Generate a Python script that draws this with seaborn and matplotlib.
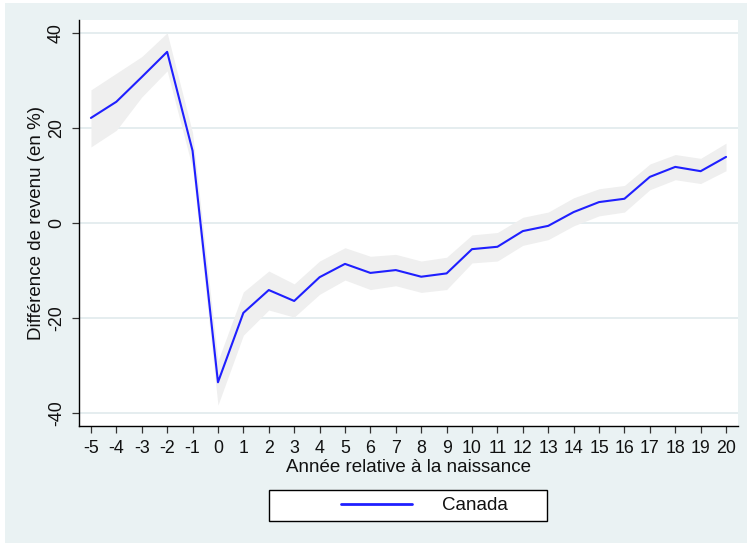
import matplotlib
matplotlib.use("Agg")
import matplotlib.pyplot as plt
from matplotlib.patches import Rectangle
from matplotlib.lines import Line2D
from matplotlib.legend_handler import HandlerLine2D
import seaborn as sns
import pandas as pd

# Years relative to the birth of the child
years = list(range(-5, 21))
# Estimated income difference (%) and its confidence band
diff = [22.1, 25.5, 30.7, 36.0, 15.2, -33.5, -18.9, -14.1, -16.4, -11.4,
        -8.6, -10.5, -9.9, -11.3, -10.6, -5.5, -5.0, -1.7, -0.6, 2.3,
        4.4, 5.1, 9.7, 11.8, 10.9, 13.9]
ci_low = [16.0, 19.5, 26.5, 32.0, 11.5, -38.3, -23.6, -18.3, -19.8, -15.0,
          -12.0, -14.0, -13.2, -14.6, -14.0, -8.4, -8.0, -4.7, -3.5, -0.6,
          1.5, 2.3, 7.0, 9.1, 8.3, 11.0]
ci_high = [28.0, 31.5, 35.0, 40.0, 19.0, -29.0, -14.5, -10.1, -12.8, -8.0,
           -5.2, -7.0, -6.6, -8.0, -7.2, -2.5, -2.0, 1.2, 2.3, 5.3,
           7.2, 7.9, 12.4, 14.4, 13.6, 16.8]
y_ticks = [-40, -20, 0, 20, 40]
series_name = "Canada"

df = pd.DataFrame({"annee": years, "diff": diff, "lo": ci_low, "hi": ci_high})

sns.set_theme(style="white")
plt.rcParams["font.family"] = ["Liberation Sans", "DejaVu Sans"]

BG = "#eaf2f3"
GRID = "#e0eaec"
LINE = "#1f1fff"
BAND = "#efefef"
FS = 13.5
TICK_FS = 12.8

fig = plt.figure(figsize=(7.47, 5.44), dpi=100, facecolor="white")
fig.patches.append(Rectangle((5 / 747, 1 / 544), 1.0, 1 - 4 / 544,
                             transform=fig.transFigure, facecolor=BG,
                             edgecolor="none", zorder=-10))

ax = fig.add_axes([79 / 747, (544 - 426) / 544, (738 - 79) / 747, (426 - 20) / 544])
ax.set_facecolor("white")

for t in y_ticks:
    ax.axhline(t, color=GRID, lw=1.2, zorder=0)

ax.fill_between(df["annee"], df["lo"], df["hi"], color=BAND, lw=0, zorder=1)
sns.lineplot(data=df, x="annee", y="diff", ax=ax, color=LINE, lw=1.5,
             errorbar=None, zorder=3)

ax.set_xlim(-5.47, 20.47)
ax.set_ylim(-42.7, 42.7)
ax.set_xticks(years)
ax.set_xticklabels([str(v) for v in years])
ax.set_yticks(y_ticks)
ax.set_yticklabels([str(v) for v in y_ticks], rotation=90, va="center")

for side in ["top", "right"]:
    ax.spines[side].set_visible(False)
for side in ["left", "bottom"]:
    ax.spines[side].set_color("black")
    ax.spines[side].set_linewidth(1.0)

ax.tick_params(axis="both", which="major", direction="out", length=5,
               width=0.9, color="#333333", labelsize=TICK_FS,
               labelcolor="#111111", left=True, bottom=True)
ax.tick_params(axis="x", pad=5)
ax.tick_params(axis="y", pad=5)

ax.set_xlabel("Année relative à la naissance", fontsize=FS, color="#111111")
ax.set_ylabel("Différence de revenu (en %)", fontsize=FS, color="#111111")
ax.xaxis.set_label_coords(0.5, (426 - 459) / 406)
ax.yaxis.set_label_coords((45 - 79) / 659, 0.5)

handle = Line2D([], [], color=LINE, lw=2.0)
leg = ax.legend([handle], [series_name], loc="center",
                bbox_to_anchor=(269 / 747, 1 - 523 / 544, 278 / 747, 35 / 544),
                bbox_transform=fig.transFigure, mode="expand",
                borderaxespad=0, borderpad=0.35, handlelength=7.3,
                handletextpad=1.6, fontsize=FS, frameon=True, fancybox=False,
                framealpha=1, handler_map={Line2D: HandlerLine2D(xpad=3.5)})
leg.get_frame().set_edgecolor("black")
leg.get_frame().set_linewidth(1.0)
leg.get_frame().set_facecolor("white")
for txt in leg.get_texts():
    txt.set_color("#111111")

fig.savefig("out.png", dpi=100, facecolor="white")
